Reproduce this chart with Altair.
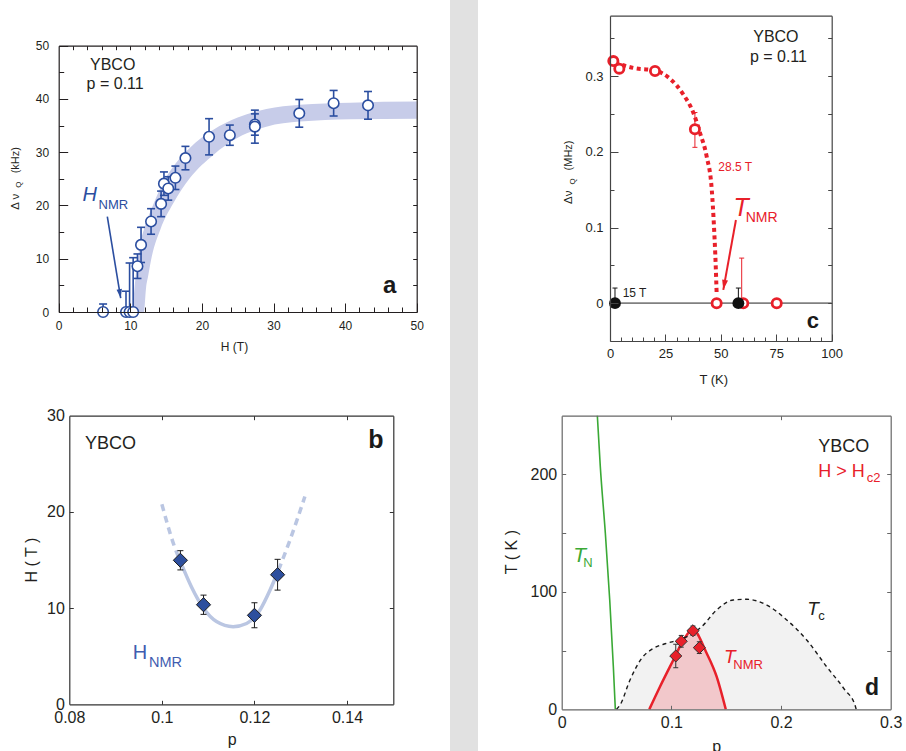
import altair as alt
import pandas as pd

FONT = "Liberation Sans"
TXT = "#231f20"
W, H = 906, 751

# ---------------- Panel a : delta nu_Q (kHz) vs H (T) ----------------
a_H = [6.2, 9.4, 9.9, 10.4, 11.0, 11.5, 12.9, 14.3, 14.7, 15.3, 16.3, 17.7, 21.0, 23.9, 27.4, 27.4, 33.6, 38.4, 43.2]
a_dnu = [0, 0, 0, 0, 8.6, 12.6, 17.0, 20.3, 24.1, 23.2, 25.2, 28.9, 32.9, 33.2, 35.2, 34.8, 37.3, 39.2, 38.8]
a_err = [1.5, 3.9, 9.2, 10.2, 2.3, 3.3, 2.4, 2.4, 2.2, 2.2, 2.2, 2.2, 3.4, 1.9, 2.0, 3.1, 2.6, 2.4, 2.6]
a_band_H = [10.3, 10.7, 11.4, 11.9, 12.2, 12.5, 13.0, 14.2, 16.0, 18.3, 21.6, 25.0, 29.0, 33.7, 40.7, 50.0]
a_band_hi = [0, 6.1, 12.9, 15.5, 16.8, 17.9, 19.5, 23.3, 27.3, 30.8, 34.2, 36.5, 38.1, 38.9, 39.3, 39.5]
a_band_lo = [0, 0, 0, 0, 4.5, 6.8, 10.4, 15.5, 20.4, 25.1, 29.5, 32.7, 34.8, 35.75, 36.2, 36.3]
a_arrow_H = [6.79, 8.66]
a_arrow_v = [17.9, 2.6]

# ---------------- Panel b : H_NMR (T) vs p ----------------
b_p = [0.104, 0.109, 0.120, 0.125]
b_H = [14.97, 10.35, 9.25, 13.47]
b_err = [1.0, 1.0, 1.3, 1.6]
b_solid_p = [0.1043, 0.1064, 0.109, 0.1118, 0.1154, 0.1183, 0.1212, 0.1234, 0.1252]
b_solid_H = [14.5, 12.2, 9.98, 8.6, 8.07, 8.4, 9.8, 11.9, 13.96]
b_dashL_p = [0.1000, 0.1025, 0.1043]
b_dashL_H = [20.8, 16.7, 14.5]
b_dashR_p = [0.1252, 0.1277, 0.1309]
b_dashR_H = [13.96, 17.1, 21.6]

# ---------------- Panel c : delta nu_Q (MHz) vs T (K) ----------------
c_T_red = [1.5, 4.2, 20.3, 38.3, 48.1, 60.1, 75.2]
c_v_red = [0.320, 0.310, 0.307, 0.230, 0, 0, 0]
c_T_blk = [2.25, 57.9]
c_v_blk = [0, 0]
c_errR_T = [38.3, 59.4]
c_errR_lo = [0.206, 0.0]
c_errR_hi = [0.252, 0.0596]
c_errB_T = [2.25, 57.9]
c_errB_lo = [0.0, 0.0]
c_errB_hi = [0.02, 0.02]
c_line_T = [2.25, 10.5, 20.3, 27.1, 33.1, 37.6, 40.6, 43.6, 45.9, 46.9, 47.7, 48.1]
c_line_v = [0.318, 0.311, 0.3075, 0.2966, 0.2758, 0.2516, 0.225, 0.194, 0.150, 0.1014, 0.0485, 0.013]
c_arrow_T = [56.8, 51.1]
c_arrow_v = [0.110, 0.0176]

# ---------------- Panel d : phase diagram T (K) vs p ----------------
d_p = [0.104, 0.109, 0.1197, 0.1255]
d_T = [45.4, 57.9, 66.9, 52.5]
d_err = [10, 5, 4, 5]
d_TN_p = [0.0325, 0.0352, 0.0398, 0.0438, 0.0471, 0.0489]
d_TN_T = [250, 206.6, 149.9, 93.1, 36.3, 0]
d_Tc_p = [0.050, 0.0532, 0.0623, 0.0729, 0.0836, 0.0957, 0.1064, 0.117, 0.1277, 0.1413, 0.1565,
          0.1687, 0.187, 0.2052, 0.2234, 0.2416, 0.2583, 0.2674, 0.2685]
d_Tc_T = [0, 3.7, 25, 43.4, 51.9, 56.2, 59, 63.3, 70.4, 84.6, 93.1, 93.7, 88.8, 76.1, 59, 36.3, 16.4, 3.7, 0]
d_Tnmr_p = [0.0799, 0.0896, 0.1018, 0.111, 0.1195, 0.1322, 0.1413, 0.1496]
d_Tnmr_T = [0, 19.2, 42, 59, 68, 47.7, 27.8, 0]

# ---------------- layout (pixel frames of each panel) ----------------
PA = dict(xd=[0, 50], yd=[0, 50], xr=[58.7, 416.7], yr=[312.0, 45.7])
PB = dict(xd=[0.08, 0.15], yd=[0, 30], xr=[69.3, 393.3], yr=[704.3, 415.7])
PC = dict(xd=[0, 100], yd=[-0.05, 0.38], xr=[610.0, 831.7], yr=[341.0, 15.7])
PD = dict(xd=[0, 0.3], yd=[0, 250], xr=[561.7, 890.7], yr=[709.3, 415.7])
PG = dict(xd=[0, 1], yd=[0, 1], xr=[450, 478], yr=[751, 0])

BLUE = "#2b4ea0"
BANDC = "#c7cce9"
RED = "#e8202a"
LBLUE = "#bac6e2"
DBLUE = "#2d4f9e"
GREEN = "#3aa935"


def xs(P):
    return alt.Scale(domain=P['xd'], range=P['xr'], nice=False, zero=False)


def ys(P):
    return alt.Scale(domain=P['yd'], range=P['yr'], nice=False, zero=False)


def enc(P, x='x', y='y', **extra):
    e = dict(x=alt.X(f'{x}:Q', scale=xs(P), axis=None),
             y=alt.Y(f'{y}:Q', scale=ys(P), axis=None))
    e.update(extra)
    return e


def axis_layer(P, xaxis=None, yaxis=None):
    df = pd.DataFrame({'x': [P['xd'][0]], 'y': [P['yd'][0]]})
    return alt.Chart(df).mark_point(opacity=0).encode(
        x=alt.X('x:Q', scale=xs(P), axis=xaxis),
        y=alt.Y('y:Q', scale=ys(P), axis=yaxis))


def lab_axis(orient, pos, vals, size, pad, color, fmt):
    off = -pos if orient == 'left' else pos - H
    return alt.Axis(orient=orient, offset=off, values=vals, format=fmt,
                    labelFontSize=size, labelPadding=pad, labelColor=TXT, labelFont=FONT,
                    labelFlush=False, labelOverlap=False, ticks=True, tickSize=0,
                    domain=True, domainColor=color, domainWidth=1.2, grid=False,
                    title=None, zindex=1)


def tick_axis(orient, pos, vals, size, color, domain=False):
    off = {'right': pos - W, 'left': -pos, 'top': -pos, 'bottom': pos - H}[orient]
    kw = dict(orient=orient, offset=off, labels=False, grid=False, title=None, zindex=1,
              domain=domain, domainColor=color, domainWidth=1.2)
    if vals:
        kw.update(values=vals, ticks=True, tickSize=size, tickColor=color, tickWidth=1)
    else:
        kw.update(ticks=False)
    return alt.Axis(**kw)


def frame(P, color, lab_x, lab_y, fmt_x, fmt_y, size, padx, pady, ticks):
    x0, x1 = P['xr']
    yb, yt = P['yr']
    layers = [axis_layer(P, lab_axis('bottom', yb, lab_x, size, padx, color, fmt_x),
                         lab_axis('left', x0, lab_y, size, pady, color, fmt_y))]
    for xv, xl, yv, yl in ticks['inner']:
        layers.append(axis_layer(P, tick_axis('top', yb, xv, xl, color),
                                 tick_axis('right', x0, yv, yl, color)))
    xv, xl, yv, yl = ticks['outer']
    layers.append(axis_layer(P, tick_axis('bottom', yt, xv, xl, color, True),
                             tick_axis('left', x1, yv, yl, color, True)))
    return layers


def text(P, x, y, s, size, color=TXT, align='left', baseline='alphabetic', **kw):
    df = pd.DataFrame({'x': [x], 'y': [y]})
    return alt.Chart(df).mark_text(text=s, font=FONT, fontSize=size, color=color,
                                   align=align, baseline=baseline, **kw).encode(**enc(P))


ARROW = "M0,0L-0.6,-2L0.6,-2Z"


def arrow(P, xs_, ys_, color, width, head_size, angle):
    df = pd.DataFrame({'x': [xs_[0]], 'y': [ys_[0]], 'x2': [xs_[1]], 'y2': [ys_[1]]})
    line = alt.Chart(df).mark_rule(color=color, strokeWidth=width).encode(
        **enc(P), x2=alt.X2('x2:Q'), y2=alt.Y2('y2:Q'))
    hd = pd.DataFrame({'x': [xs_[1]], 'y': [ys_[1]]})
    head = alt.Chart(hd).mark_point(shape=ARROW, filled=True, color=color, size=head_size,
                                    angle=angle, opacity=1).encode(**enc(P))
    return [line, head]


def errbars(P, xv, lo, hi, color, width, cap, thick, low_caps=True):
    df = pd.DataFrame({'x': xv, 'lo': lo, 'hi': hi})
    rule = alt.Chart(df).mark_rule(color=color, strokeWidth=width).encode(
        **enc(P, y='lo'), y2=alt.Y2('hi:Q'))
    top = alt.Chart(df).mark_tick(orient='horizontal', color=color, size=cap,
                                  thickness=thick, opacity=1).encode(**enc(P, y='hi'))
    out = [rule, top]
    if low_caps:
        dfl = df[df['lo'] > 0]
        out.append(alt.Chart(dfl).mark_tick(orient='horizontal', color=color, size=cap,
                                            thickness=thick, opacity=1).encode(**enc(P, y='lo')))
    return out


layers = []

# ---- gray divider band ----
layers.append(alt.Chart(pd.DataFrame({'x': [0], 'x2': [1], 'y': [0], 'y2': [1]}))
              .mark_rect(color="#e1e1e1").encode(**enc(PG), x2=alt.X2('x2:Q'), y2=alt.Y2('y2:Q')))

# ================= Panel a =================
a_band = pd.DataFrame({'x': a_band_H, 'hi': a_band_hi, 'lo': a_band_lo})
layers.append(alt.Chart(a_band).mark_area(color=BANDC, interpolate='monotone', opacity=1)
              .encode(**enc(PA, y='hi'), y2=alt.Y2('lo:Q')))
layers += arrow(PA, a_arrow_H, a_arrow_v, BLUE, 1.6, 81, 350.7)
a_lo = [max(0.0, v - e) for v, e in zip(a_dnu, a_err)]
a_hi = [v + e for v, e in zip(a_dnu, a_err)]
layers += errbars(PA, a_H, a_lo, a_hi, BLUE, 1.6, 8, 1.6)
layers.append(alt.Chart(pd.DataFrame({'x': a_H, 'y': a_dnu}))
              .mark_point(shape='circle', filled=True, fill='white', stroke=BLUE,
                          strokeWidth=1.6, size=110, opacity=1).encode(**enc(PA)))
layers += frame(PA, TXT, [0, 10, 20, 30, 40, 50], [0, 10, 20, 30, 40, 50], 'd', 'd', 12, 8, 10,
                {'inner': [([0, 10, 20, 30, 40, 50], 9, [0, 10, 20, 30, 40, 50], 9),
                           ([2, 4, 6, 8, 12, 14, 16, 18, 22, 24, 26, 28, 32, 34, 36, 38, 42, 44, 46, 48], 5,
                            [5, 15, 25, 35, 45], 5)],
                 'outer': ([2, 4, 6, 8, 10, 12, 14, 16, 18, 20, 22, 24, 26, 28, 30, 32, 34, 36, 38, 40,
                            42, 44, 46, 48], 4, [5, 10, 15, 20, 25, 30, 35, 40, 45], 4)})
layers += [
    text(PA, 4.37, 45.44, "YBCO", 16),
    text(PA, 3.9, 41.8, "p = 0.11", 16),
    text(PA, 3.32, 20.9, "H", 20, BLUE, fontStyle='italic'),
    text(PA, 5.56, 19.34, "NMR", 13, BLUE),
    text(PA, 45.3, 3.5, "a", 24, '#1a1a1a', fontWeight='bold'),
    text(PA, 24.55, -6.5, "H (T)", 12, align='center', baseline='middle'),
    text(PA, -5.96, 20.7, "Δ ν", 11.5, align='center', baseline='middle', angle=270),
    text(PA, -5.55, 23.9, "Q", 8, align='center', baseline='middle', angle=270),
    text(PA, -5.96, 28.5, "(kHz)", 11, align='center', baseline='middle', angle=270),
]

# ================= Panel c =================
layers.append(alt.Chart(pd.DataFrame({'x': [0], 'x2': [100], 'y': [0]}))
              .mark_rule(color='#808080', strokeWidth=1.6).encode(**enc(PC), x2=alt.X2('x2:Q')))
layers += errbars(PC, c_errR_T, c_errR_lo, c_errR_hi, RED, 1, 5, 1)
layers += errbars(PC, c_errB_T, c_errB_lo, c_errB_hi, '#111111', 1, 5, 1)
layers.append(alt.Chart(pd.DataFrame({'x': c_line_T, 'y': c_line_v}))
              .mark_line(color=RED, strokeWidth=4, strokeDash=[4, 3.5], interpolate='monotone')
              .encode(**enc(PC)))
layers.append(alt.Chart(pd.DataFrame({'x': c_T_red, 'y': c_v_red}))
              .mark_point(shape='circle', filled=True, fill='white', stroke=RED,
                          strokeWidth=2.8, size=85, opacity=1).encode(**enc(PC)))
layers.append(alt.Chart(pd.DataFrame({'x': c_T_blk, 'y': c_v_blk}))
              .mark_point(shape='circle', filled=True, color='#111111', size=140, opacity=1)
              .encode(**enc(PC)))
layers += arrow(PC, c_arrow_T, c_arrow_v, RED, 2, 100, 10.3)
layers += frame(PC, '#444444', [0, 25, 50, 75, 100], [0, 0.1, 0.2, 0.3], 'd', '.1~f', 13, 6, 7,
                {'inner': [([0, 25, 50, 75, 100], 7, [0, 0.1, 0.2, 0.3], 8),
                           ([5, 10, 15, 20, 30, 35, 40, 45, 55, 60, 65, 70, 80, 85, 90, 95], 4,
                            [0.05, 0.15, 0.25, 0.35], 4)],
                 'outer': ([], 0, [0, 0.05, 0.1, 0.15, 0.2, 0.25, 0.3, 0.35], 4)})
layers += [
    text(PC, 64.6, 0.345, "YBCO", 16),
    text(PC, 63.1, 0.3186, "p = 0.11", 16),
    text(PC, 48.85, 0.1742, "28.5 T", 12, RED),
    text(PC, 55.7, 0.1147, "T", 25, RED, fontStyle='italic'),
    text(PC, 61.2, 0.1067, "NMR", 14, RED),
    text(PC, 5.7, 0.0087, "15 T", 12),
    text(PC, 88.7, -0.0331, "c", 22, '#1a1a1a', fontWeight='bold'),
    text(PC, 46.8, -0.1015, "T (K)", 13, align='center', baseline='middle'),
    text(PC, -18.7, 0.140, "Δν", 11.5, align='center', baseline='middle', angle=270),
    text(PC, -16.7, 0.161, "Q", 8, align='center', baseline='middle', angle=270),
    text(PC, -18.7, 0.1953, "(MHz)", 11, align='center', baseline='middle', angle=270),
]

# ================= Panel b =================
layers.append(alt.Chart(pd.DataFrame({'x': b_solid_p, 'y': b_solid_H}))
              .mark_line(color=LBLUE, strokeWidth=3.5, interpolate='monotone').encode(**enc(PB)))
layers.append(alt.Chart(pd.DataFrame({'x': b_dashL_p, 'y': b_dashL_H}))
              .mark_line(color=LBLUE, strokeWidth=3.5, strokeDash=[7, 5], interpolate='monotone')
              .encode(**enc(PB)))
layers.append(alt.Chart(pd.DataFrame({'x': b_dashR_p, 'y': b_dashR_H}))
              .mark_line(color=LBLUE, strokeWidth=3.5, strokeDash=[7, 5], interpolate='monotone')
              .encode(**enc(PB)))
layers += errbars(PB, b_p, [v - e for v, e in zip(b_H, b_err)], [v + e for v, e in zip(b_H, b_err)],
                  '#1a1a1a', 1, 6, 1)
layers.append(alt.Chart(pd.DataFrame({'x': b_p, 'y': b_H}))
              .mark_point(shape='diamond', filled=True, fill=DBLUE, stroke='#1a1a1a',
                          strokeWidth=1, size=200, opacity=1).encode(**enc(PB)))
layers += frame(PB, '#333333', [0.08, 0.1, 0.12, 0.14], [0, 10, 20, 30], '.2~f', 'd', 16, 5, 5,
                {'inner': [([0.1, 0.12, 0.14], 4, [10, 20], 4)],
                 'outer': ([0.1, 0.12, 0.14], 4, [10, 20], 4)})
layers += [
    text(PB, 0.08339, 26.54, "YBCO", 18),
    text(PB, 0.1446, 26.6, "b", 25, '#1a1a1a', fontWeight='bold'),
    text(PB, 0.0937, 4.68, "H", 20, "#3f5db0"),
    text(PB, 0.09722, 3.91, "NMR", 14.5, "#3f5db0"),
    text(PB, 0.1152, -3.71, "p", 16, align='center', baseline='middle'),
    text(PB, 0.07188, 15.0, "H ( T )", 16, align='center', baseline='middle', angle=270),
]

# ================= Panel d =================
layers.append(alt.Chart(pd.DataFrame({'x': d_Tc_p, 'y': d_Tc_T, 'y2': [0] * len(d_Tc_p)}))
              .mark_area(color='#f2f2f2', interpolate='monotone', opacity=1)
              .encode(**enc(PD), y2=alt.Y2('y2:Q')))
layers.append(alt.Chart(pd.DataFrame({'x': d_Tnmr_p, 'y': d_Tnmr_T, 'y2': [0] * len(d_Tnmr_p)}))
              .mark_area(color='#f2c8cb', interpolate='monotone', opacity=1)
              .encode(**enc(PD), y2=alt.Y2('y2:Q')))
layers.append(alt.Chart(pd.DataFrame({'x': d_Tnmr_p, 'y': d_Tnmr_T}))
              .mark_line(color=RED, strokeWidth=2.5, interpolate='monotone').encode(**enc(PD)))
layers.append(alt.Chart(pd.DataFrame({'x': d_Tc_p, 'y': d_Tc_T}))
              .mark_line(color='#1a1a1a', strokeWidth=1.4, strokeDash=[4, 3.5], interpolate='monotone')
              .encode(**enc(PD)))
layers.append(alt.Chart(pd.DataFrame({'x': d_TN_p, 'y': d_TN_T}))
              .mark_line(color=GREEN, strokeWidth=1.6, interpolate='monotone').encode(**enc(PD)))
layers += errbars(PD, d_p, [v - e for v, e in zip(d_T, d_err)], [v + e for v, e in zip(d_T, d_err)],
                  '#333333', 1, 5, 1)
layers.append(alt.Chart(pd.DataFrame({'x': d_p, 'y': d_T}))
              .mark_point(shape='diamond', filled=True, fill=RED, stroke='#333333',
                          strokeWidth=1, size=145, opacity=1).encode(**enc(PD)))
layers += frame(PD, '#666666', [0, 0.1, 0.2, 0.3], [0, 100, 200], '.1~f', 'd', 16, 5, 5,
                {'inner': [([0.1, 0.2], 4, [50, 100, 150, 200], 4)],
                 'outer': ([0.1, 0.2], 4, [50, 100, 150, 200], 4)})
layers += [
    text(PD, 0.234, 219.3, "YBCO", 18),
    text(PD, 0.234, 198.1, "H > H", 18, RED),
    text(PD, 0.2781, 193.8, "c2", 13, RED),
    text(PD, 0.0106, 125.7, "T", 21, GREEN, fontStyle='italic'),
    text(PD, 0.0197, 121.4, "N", 13, GREEN),
    text(PD, 0.224, 80.3, "T", 19, TXT, fontStyle='italic'),
    text(PD, 0.234, 76.0, "c", 13),
    text(PD, 0.148, 39.2, "T", 19, RED, fontStyle='italic'),
    text(PD, 0.1565, 34.1, "NMR", 13, RED),
    text(PD, 0.2766, 12.2, "d", 23, '#1a1a1a', fontWeight='bold'),
    text(PD, 0.1413, -31.8, "p", 16, align='center', baseline='middle'),
    text(PD, -0.0453, 133.9, "T ( K )", 16, align='center', baseline='middle', angle=270),
]

chart = (alt.layer(*layers)
         .resolve_scale(x='independent', y='independent')
         .resolve_axis(x='independent', y='independent')
         .properties(width=W, height=H, autosize=alt.AutoSizeParams(type='none'), padding=0,
                     background='white')
         .configure_view(stroke=None))

chart.save("out.html", embed_options={"renderer": "svg", "actions": False})
